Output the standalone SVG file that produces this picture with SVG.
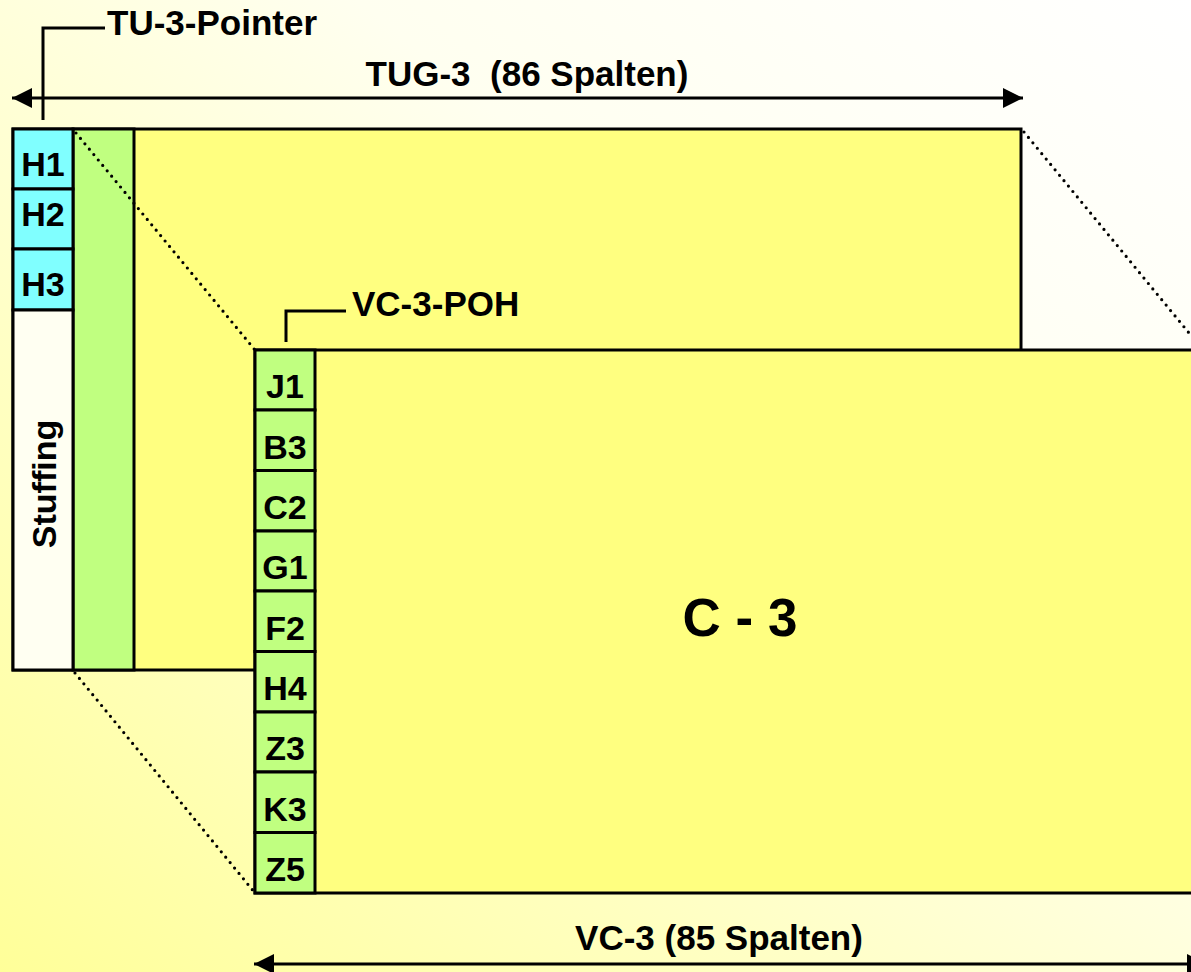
<svg xmlns="http://www.w3.org/2000/svg" width="1191" height="972" viewBox="0 0 1191 972">
<defs>
<linearGradient id="bg" x1="1" y1="0" x2="0" y2="1">
<stop offset="0" stop-color="#FFFFFF"/>
<stop offset="0.35" stop-color="#FFFFF0"/>
<stop offset="1" stop-color="#FFFF99"/>
</linearGradient>
<marker id="ah" viewBox="0 0 20 20" refX="20" refY="10" markerWidth="20" markerHeight="20" markerUnits="userSpaceOnUse" orient="auto-start-reverse">
<path d="M0,0 L20,10 L0,20 Z" fill="#000"/>
</marker>
<style>
.box{stroke:#000;stroke-width:3}
.cyan{fill:#80FFFF}
.green{fill:#C0FF80}
.yellow{fill:#FFFF80}
.stuff{fill:#FFFFF2}
.lbl{font-family:"Liberation Sans",Arial,sans-serif;font-weight:bold;fill:#000}
.cell{font-size:34px;text-anchor:middle}
.big{font-size:35px}
.line{stroke:#000;stroke-width:3;fill:none}
.dot{stroke:#000;stroke-width:3.2;stroke-linecap:round;stroke-dasharray:0 7;fill:none}
</style>
</defs>
<rect x="0" y="0" width="1191" height="972" fill="url(#bg)"/>

<g id="tug3">
<rect class="box yellow" x="13" y="129" width="1008" height="541"/>
</g>
<g id="tug3-poh-column">
<rect class="box green" x="73" y="129" width="61" height="541"/>
</g>
<g id="H1"><rect class="box cyan" x="13" y="129" width="60" height="60"/><text class="lbl cell" x="43" y="176">H1</text></g>
<g id="H2"><rect class="box cyan" x="13" y="189" width="60" height="60"/><text class="lbl cell" x="43" y="226">H2</text></g>
<g id="H3"><rect class="box cyan" x="13" y="249" width="60" height="61"/><text class="lbl cell" x="43" y="296">H3</text></g>
<g id="stuffing"><rect class="box stuff" x="13" y="310" width="60" height="360"/><text class="lbl cell" transform="translate(56,484) rotate(-90)" x="0" y="0">Stuffing</text></g>

<g id="vc3">
<rect class="box yellow" x="255" y="350" width="948" height="543"/>
<text class="lbl" x="740" y="636" font-size="53" text-anchor="middle">C - 3</text>
</g>
<g id="J1"><rect class="box green" x="255" y="350" width="60" height="60"/><text class="lbl cell" x="285" y="398">J1</text></g>
<g id="B3"><rect class="box green" x="255" y="410" width="60" height="60.5"/><text class="lbl cell" x="285" y="459">B3</text></g>
<g id="C2"><rect class="box green" x="255" y="470.5" width="60" height="60.5"/><text class="lbl cell" x="285" y="519">C2</text></g>
<g id="G1"><rect class="box green" x="255" y="531" width="60" height="60"/><text class="lbl cell" x="285" y="579">G1</text></g>
<g id="F2"><rect class="box green" x="255" y="591" width="60" height="60.5"/><text class="lbl cell" x="285" y="640">F2</text></g>
<g id="H4"><rect class="box green" x="255" y="651.5" width="60" height="60.5"/><text class="lbl cell" x="285" y="700">H4</text></g>
<g id="Z3"><rect class="box green" x="255" y="712" width="60" height="60"/><text class="lbl cell" x="285" y="760">Z3</text></g>
<g id="K3"><rect class="box green" x="255" y="772" width="60" height="60.5"/><text class="lbl cell" x="285" y="821">K3</text></g>
<g id="Z5"><rect class="box green" x="255" y="832.5" width="60" height="60.5"/><text class="lbl cell" x="285" y="881">Z5</text></g>

<g id="labels">
<text class="lbl big" x="107" y="35">TU-3-Pointer</text>
<text class="lbl big" x="527" y="86" text-anchor="middle" xml:space="preserve">TUG-3  (86 Spalten)</text>
<text class="lbl big" x="352" y="316">VC-3-POH</text>
<text class="lbl big" x="719" y="950" text-anchor="middle">VC-3 (85 Spalten)</text>
</g>

<g id="connectors">
<path class="dot" d="M76,133 L255,350"/>
<path class="dot" d="M1024,132 L1203,350"/>
<path class="dot" d="M75,673 L255,893"/>
<path class="line" d="M43,120 V28 H105"/>
<path class="line" d="M286,342 V311 H346"/>
<line class="line" x1="12" y1="98" x2="1023" y2="98" marker-start="url(#ah)" marker-end="url(#ah)"/>
<line class="line" x1="254" y1="964" x2="1207" y2="964" marker-start="url(#ah)" marker-end="url(#ah)"/>
</g>
</svg>
